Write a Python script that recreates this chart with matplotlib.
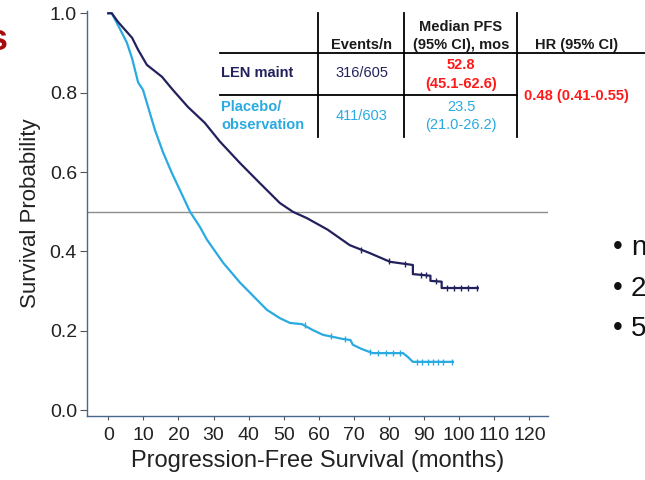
import matplotlib

matplotlib.use("Agg")
import matplotlib.pyplot as plt

plt.rcParams["font.family"] = ["Liberation Sans", "DejaVu Sans"]

# Kaplan-Meier estimates, lenalidomide maintenance arm
len_months = [0, 1.0, 2.8, 6.8, 8.5, 11.0, 15.3, 18.4, 22.7, 27.5, 31.8, 37.5,
              43.1, 48.9, 52.6, 56.6, 62.5, 68.8, 74.5, 80.3, 86.8, 86.8,
              91.8, 91.8, 95.0, 95.0, 105.3]
len_surv = [1.0, 1.0, 0.978, 0.938, 0.908, 0.870, 0.840, 0.807, 0.764, 0.724,
            0.677, 0.623, 0.573, 0.522, 0.500, 0.484, 0.455, 0.416, 0.396,
            0.374, 0.366, 0.343, 0.339, 0.326, 0.324, 0.308, 0.308]
# censored observations (time, survival at that time)
len_cens_t = [72.0, 80.0, 84.5, 89.0, 90.5, 93.5, 96.5, 98.5, 100.5, 102.5, 105.0]
len_cens_s = [0.404, 0.375, 0.368, 0.341, 0.340, 0.325, 0.308, 0.308, 0.308,
              0.308, 0.308]

# Kaplan-Meier estimates, placebo / observation arm
pbo_months = [0, 1.0, 3.3, 5.3, 6.8, 8.5, 9.9, 13.3, 15.6, 18.1, 20.4, 23.3,
              26.1, 28.1, 32.7, 37.5, 45.2, 48.9, 51.8, 55.2, 58.3, 61.2, 64.0,
              66.6, 69.0, 69.7, 72.3, 75.4, 84.0, 85.4, 86.8, 98.2]
pbo_surv = [1.0, 1.0, 0.961, 0.926, 0.886, 0.826, 0.807, 0.706, 0.650, 0.598,
            0.555, 0.500, 0.462, 0.430, 0.372, 0.322, 0.253, 0.232, 0.220,
            0.217, 0.202, 0.190, 0.185, 0.180, 0.177, 0.165, 0.154, 0.144,
            0.144, 0.134, 0.122, 0.122]
pbo_cens_t = [56.0, 63.5, 67.5, 74.5, 77.0, 79.0, 81.0, 83.0, 88.0, 89.5,
              91.0, 92.5, 94.0, 95.5, 98.0]
pbo_cens_s = [0.215, 0.186, 0.179, 0.146, 0.144, 0.144, 0.144, 0.144, 0.122,
              0.122, 0.122, 0.122, 0.122, 0.122, 0.122]

x_ticks = list(range(0, 121, 10))
y_ticks = [0.0, 0.2, 0.4, 0.6, 0.8, 1.0]

NAVY = "#22215e"
SKY = "#29aae1"
RED = "#ff1a1a"
SPINE = "#46678f"

fig = plt.figure(figsize=(6.45, 4.8), dpi=100)
ax = fig.add_axes([0.1344, 0.1333, 0.7152, 0.8432])

ax.axhline(0.5, color="#8c8c8c", lw=1.0, zorder=1)
ax.plot(len_months, len_surv, color=NAVY, lw=1.6, zorder=3)
ax.plot(pbo_months, pbo_surv, color=SKY, lw=1.6, zorder=2)
ax.plot(len_cens_t, len_cens_s, ls="none", marker="|", ms=5, mew=1.0,
        color=NAVY, zorder=3)
ax.plot(pbo_cens_t, pbo_cens_s, ls="none", marker="|", ms=5, mew=1.0,
        color=SKY, zorder=2)

ax.set_xlim(-6.15, 125.3)
ax.set_ylim(-0.0144, 1.005)
ax.set_xticks(x_ticks)
ax.set_yticks(y_ticks)
ax.set_yticklabels([f"{v:.1f}" for v in y_ticks])
for side in ("top", "right"):
    ax.spines[side].set_visible(False)
for side in ("left", "bottom"):
    ax.spines[side].set_color(SPINE)
    ax.spines[side].set_linewidth(1.0)
ax.tick_params(axis="y", length=5, width=0.8, color="#555555", pad=2,
               labelsize=14, labelcolor="#222222")
ax.tick_params(axis="x", length=3, width=0.8, color="#555555", pad=5,
               labelsize=14, labelcolor="#222222")
ax.set_xlabel("Progression-Free Survival (months)", fontsize=17,
              color="#222222", labelpad=4)
ax.set_ylabel("Survival Probability", fontsize=16, color="#222222", labelpad=6)

# summary table drawn in figure pixel space
tab = fig.add_axes([0, 0, 1, 1], zorder=5)
tab.set_xlim(0, 645)
tab.set_ylim(480, 0)
tab.axis("off")
for xv in (318, 404, 517):
    tab.plot([xv, xv], [13, 137], color="black", lw=1.3)
tab.plot([220, 645], [53, 53], color="black", lw=1.3)
tab.plot([220, 517], [95, 95], color="black", lw=1.3)

fs = 10.5
tab.text(362, 45, "Events/n", ha="center", va="center", fontsize=fs,
         weight="bold", color="#1a1a1a")
tab.text(461, 27, "Median PFS", ha="center", va="center", fontsize=fs,
         weight="bold", color="#1a1a1a")
tab.text(461, 45, "(95% CI), mos", ha="center", va="center", fontsize=fs,
         weight="bold", color="#1a1a1a")
tab.text(577, 45, "HR (95% CI)", ha="center", va="center", fontsize=fs,
         weight="bold", color="#1a1a1a")

tab.text(221, 73, "LEN maint", ha="left", va="center", fontsize=fs,
         weight="bold", color=NAVY)
tab.text(362, 73, "316/605", ha="center", va="center", fontsize=fs, color=NAVY)
tab.text(461, 65, "52.8", ha="center", va="center", fontsize=fs,
         weight="bold", color=RED)
tab.text(461, 84, "(45.1-62.6)", ha="center", va="center", fontsize=fs,
         weight="bold", color=RED)

tab.text(221, 107, "Placebo/", ha="left", va="center", fontsize=fs,
         weight="bold", color=SKY)
tab.text(221, 125, "observation", ha="left", va="center", fontsize=fs,
         weight="bold", color=SKY)
tab.text(362, 116, "411/603", ha="center", va="center", fontsize=fs, color=SKY)
tab.text(461, 107, "23.5", ha="center", va="center", fontsize=fs, color=SKY)
tab.text(461, 125, "(21.0-26.2)", ha="center", va="center", fontsize=fs,
         color=SKY)

tab.text(524, 96, "0.48 (0.41-0.55)", ha="left", va="center", fontsize=fs,
         weight="bold", color=RED)

# slide remnants around the chart
tab.text(8, 41, "s", ha="right", va="center", fontsize=26, weight="bold",
         color="#a80c0c")
for yv, txt in zip((247, 288, 328), ("n", "2", "5")):
    tab.text(618, yv, "\u2022", ha="center", va="center", fontsize=20,
             color="#111111")
    tab.text(631, yv + 1, txt, ha="left", va="center", fontsize=20,
             color="#111111")

fig.savefig("out.png", dpi=100)
